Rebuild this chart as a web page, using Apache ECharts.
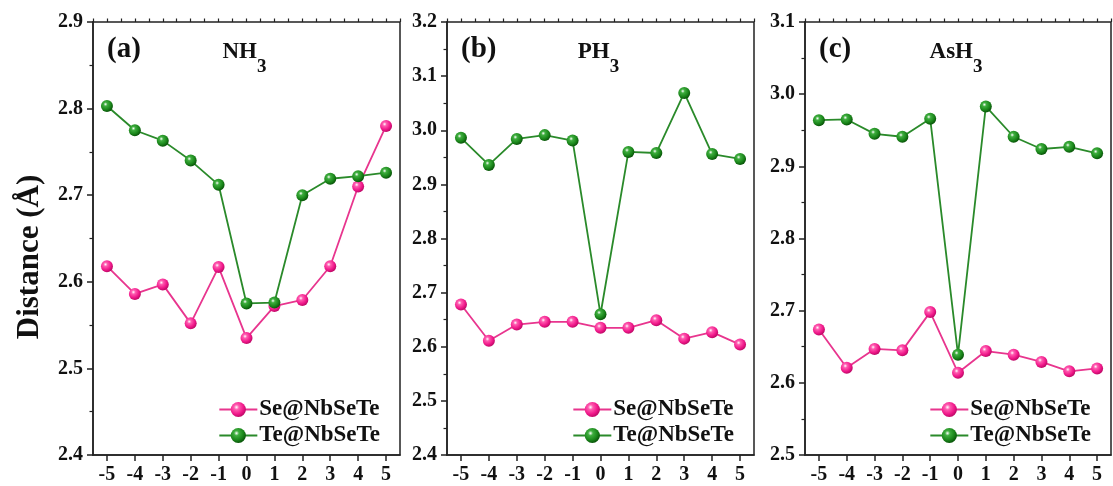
<!DOCTYPE html>
<html>
<head>
<meta charset="utf-8">
<script src="https://cdn.jsdelivr.net/npm/echarts@6/dist/echarts.min.js"></script>
<style>html,body{margin:0;padding:0;background:#fff}#c{width:1113px;height:486px}</style>
</head>
<body>
<div id="c"></div>
<script>
const xVals = [-5, -4, -3, -2, -1, 0, 1, 2, 3, 4, 5];
const seriesNames = ['Se@NbSeTe', 'Te@NbSeTe'];
const panelLabels = ['(a)', '(b)', '(c)'];
const molecules = [['NH', '3'], ['PH', '3'], ['AsH', '3']];
const yMins = [2.4, 2.4, 2.5];
const yMaxs = [2.9, 3.2, 3.1];
// Panel (a) NH3
const seNH3 = [2.618, 2.586, 2.597, 2.552, 2.617, 2.535, 2.572, 2.579, 2.618, 2.710, 2.780];
const teNH3 = [2.803, 2.775, 2.763, 2.740, 2.712, 2.575, 2.576, 2.700, 2.719, 2.722, 2.726];
// Panel (b) PH3
const sePH3 = [2.678, 2.611, 2.641, 2.646, 2.646, 2.635, 2.635, 2.649, 2.615, 2.627, 2.604];
const tePH3 = [2.986, 2.936, 2.984, 2.991, 2.981, 2.660, 2.960, 2.958, 3.069, 2.956, 2.947];
// Panel (c) AsH3
const seAsH3 = [2.674, 2.621, 2.647, 2.645, 2.698, 2.614, 2.644, 2.639, 2.629, 2.616, 2.620];
const teAsH3 = [2.964, 2.965, 2.945, 2.941, 2.966, 2.639, 2.983, 2.941, 2.924, 2.927, 2.918];

const seData = [seNH3, sePH3, seAsH3];
const teData = [teNH3, tePH3, teAsH3];

const FONT = '"Liberation Serif", "Times New Roman", serif';
const grids = [
  {left: 93, top: 22, width: 307, height: 433},
  {left: 447, top: 22, width: 307, height: 433},
  {left: 805, top: 22, width: 306, height: 433}
];

function sphere(c0, c1, c2) {
  return {type: 'radial', x: 0.38, y: 0.35, r: 0.65,
    colorStops: [{offset: 0, color: '#ffffff'}, {offset: 0.25, color: c0}, {offset: 0.7, color: c1}, {offset: 1, color: c2}]};
}
const pinkSphere = sphere('#ff5cb0', '#f0188a', '#c00a68');
const greenSphere = sphere('#3fae3f', '#1a861a', '#0a560a');
const pinkLine = '#e8358e';
const greenLine = '#2a8a2a';

const option = {
  animation: false,
  backgroundColor: '#fff',
  grid: grids.map(g => Object.assign({show: true, borderColor: '#222', borderWidth: 1.5, backgroundColor: 'transparent'}, g)),
  xAxis: [],
  yAxis: [],
  series: [],
  legend: [],
  title: [],
  graphic: [{
    type: 'text',
    x: 30, y: 257,
    rotation: Math.PI / 2,
    style: {text: 'Distance (Å)', font: 'bold 31px ' + FONT, fill: '#111', textAlign: 'center', textVerticalAlign: 'middle'}
  }]
};

for (let i = 0; i < 3; i++) {
  option.xAxis.push({
    gridIndex: i, type: 'value', min: -5.5, max: 5.5, interval: 0.5,
    axisLine: {show: true, onZero: false, lineStyle: {color: '#222', width: 1.5}},
    axisTick: {show: true, inside: false, length: 6, customValues: xVals, lineStyle: {color: '#222', width: 1.5}},
    axisLabel: {show: true, margin: 10, customValues: xVals, fontFamily: FONT, fontWeight: 'bold', fontSize: 20, color: '#111'},
    splitLine: {show: false}
  });
  option.xAxis.push({
    gridIndex: i, type: 'value', min: -5.5, max: 5.5, interval: 0.5,
    axisLine: {show: false, onZero: false},
    axisTick: {show: true, inside: false, length: 3.5, lineStyle: {color: '#222', width: 1.2}},
    axisLabel: {show: false},
    splitLine: {show: false}
  });
  option.yAxis.push({
    gridIndex: i, type: 'value', min: yMins[i], max: yMaxs[i], interval: 0.1,
    axisLine: {show: true, onZero: false, lineStyle: {color: '#222', width: 1.5}},
    axisTick: {show: true, inside: false, length: 6, lineStyle: {color: '#222', width: 1.5}},
    minorTick: {show: true, splitNumber: 2, length: 3.5, lineStyle: {color: '#222', width: 1.2}},
    axisLabel: {margin: 10, fontFamily: FONT, fontWeight: 'bold', fontSize: 20, color: '#111', formatter: v => v.toFixed(1)},
    splitLine: {show: false}
  });
  option.series.push({
    name: seriesNames[0], type: 'line', xAxisIndex: 2 * i, yAxisIndex: i,
    data: xVals.map((x, k) => [x, seData[i][k]]),
    symbol: 'circle', symbolSize: 12,
    lineStyle: {color: pinkLine, width: 1.8},
    itemStyle: {color: pinkSphere, borderWidth: 0},
    z: 3
  });
  option.series.push({
    name: seriesNames[1], type: 'line', xAxisIndex: 2 * i, yAxisIndex: i,
    data: xVals.map((x, k) => [x, teData[i][k]]),
    symbol: 'circle', symbolSize: 12,
    lineStyle: {color: greenLine, width: 1.8},
    itemStyle: {color: greenSphere, borderWidth: 0},
    z: 4
  });
  const g = grids[i];
  option.legend.push({
    data: seriesNames,
    orient: 'vertical',
    right: 1113 - (g.left + g.width) + 15,
    top: 393,
    itemWidth: 38, itemHeight: 19, itemGap: 3,
    textStyle: {fontFamily: FONT, fontWeight: 'bold', fontSize: 23, lineHeight: 21, color: '#111', padding: [0, 0, 0, -3]},
    selectedMode: false
  });
  option.title.push({
    text: panelLabels[i],
    left: g.left + 9, top: 30,
    textStyle: {fontFamily: FONT, fontWeight: 'bold', fontSize: 29, color: '#111'}
  });
  option.title.push({
    text: '{m|' + molecules[i][0] + '}{s|' + molecules[i][1] + '}',
    left: g.left + g.width / 2 - 7, top: 36,
    textAlign: 'center',
    textStyle: {rich: {
      m: {fontFamily: FONT, fontWeight: 'bold', fontSize: 23, color: '#111', verticalAlign: 'top', lineHeight: 24},
      s: {fontFamily: FONT, fontWeight: 'bold', fontSize: 19, color: '#111', padding: [17, 0, 0, 0], verticalAlign: 'top', lineHeight: 24}
    }}
  });
}

const chart = echarts.init(document.getElementById('c'), null, {renderer: 'canvas'});
chart.setOption(option);
</script>
</body>
</html>
